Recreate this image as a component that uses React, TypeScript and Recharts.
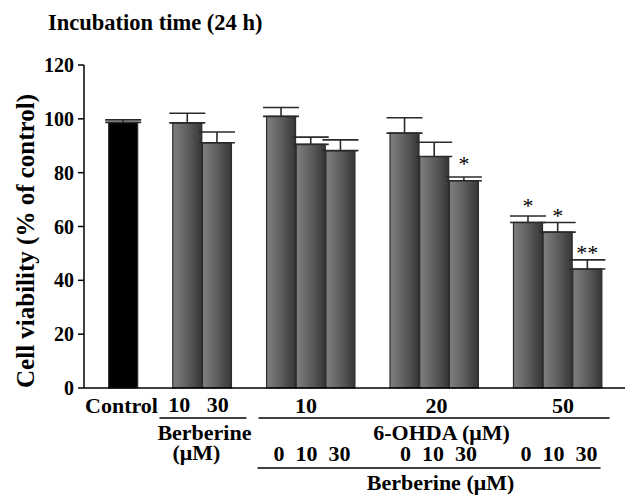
import React from "react";
import { Bar, BarChart, Cell, ErrorBar, LabelList, XAxis, YAxis } from "recharts";

// Cell viability after 24 h (% of control, mean + SEM)
const CATEGORIES = [
  "Control",
  "Berberine 10",
  "Berberine 30",
  "6-OHDA 10 / Berberine 0",
  "6-OHDA 10 / Berberine 10",
  "6-OHDA 10 / Berberine 30",
  "6-OHDA 20 / Berberine 0",
  "6-OHDA 20 / Berberine 10",
  "6-OHDA 20 / Berberine 30",
  "6-OHDA 50 / Berberine 0",
  "6-OHDA 50 / Berberine 10",
  "6-OHDA 50 / Berberine 30",
];
const VIABILITY = [98.7, 98.5, 91.1, 100.9, 90.5, 88.2, 94.7, 86.0, 77.0, 61.5, 57.9, 44.2];
const SEM = [0.9, 3.6, 4.0, 3.3, 2.7, 4.0, 5.7, 5.3, 1.4, 2.4, 3.6, 3.4];
const SIG = ["", "", "", "", "", "", "", "", "*", "*", "*", "**"];
const GROUP = [0, 1, 1, 2, 2, 2, 3, 3, 3, 4, 4, 4];
const Y_TICKS = [0, 20, 40, 60, 80, 100, 120];
const GROUP_LABELS = ["Control", "10   30", "10", "20", "50"];
const BERB_DOSES = "0  10  30";

const SERIF = '"Liberation Serif", "Times New Roman", serif';
const INK = "#000";
const GAP = 1.16; // extra space between groups, in bar widths

const rows = CATEGORIES.map((name, i) => ({
  name,
  pos: i + GROUP[i] * GAP,
  value: VIABILITY[i],
  err: [0, SEM[i]],
  sig: SIG[i],
}));

const groupCenters = GROUP_LABELS.map((_, g) => {
  const ps = rows.filter((_, i) => GROUP[i] === g).map((r) => r.pos);
  return ps.reduce((a, b) => a + b, 0) / ps.length;
});

const txt = {
  fontFamily: SERIF,
  fontWeight: 700,
  fontSize: 22,
  fill: INK,
  textAnchor: "middle" as const,
  style: { whiteSpace: "pre" as const },
};

function GroupTick(props: any) {
  const { x, payload } = props;
  const g = groupCenters.indexOf(payload.value);
  const parts: React.ReactNode[] = [];
  if (g === 0) parts.push(<text key="a" x={x - 2} y={413} {...txt}>{GROUP_LABELS[0]}</text>);
  if (g === 1) {
    parts.push(<text key="a" x={x - 4} y={412} {...txt}>{GROUP_LABELS[1]}</text>);
    parts.push(<line key="l" x1={x - 43} x2={x + 44} y1={418} y2={418} stroke={INK} strokeWidth={1.5} />);
    parts.push(<text key="b" x={x + 2} y={440} {...txt}>Berberine</text>);
    parts.push(<text key="c" x={x - 6} y={460} {...txt}>(μM)</text>);
  }
  if (g >= 2) {
    parts.push(<text key="a" x={x + (g === 2 ? -5 : g === 3 ? 2 : 5)} y={413} {...txt}>{GROUP_LABELS[g]}</text>);
    parts.push(<text key="d" x={x + (g === 3 ? 4 : 1)} y={461} {...txt}>{BERB_DOSES}</text>);
  }
  if (g === 3) {
    parts.push(<line key="l1" x1={x - 176} x2={x + 175} y1={418} y2={418} stroke={INK} strokeWidth={1.5} />);
    parts.push(<text key="b" x={x + 7} y={440} {...txt}>6-OHDA (μM)</text>);
    parts.push(<line key="l2" x1={x - 177} x2={x + 166} y1={468} y2={468} stroke={INK} strokeWidth={1.5} />);
    parts.push(<text key="e" x={x + 6} y={490} {...txt}>Berberine (μM)</text>);
  }
  return <g>{parts}</g>;
}

function Titles() {
  return (
    <g>
      <text x={48} y={30} fontFamily={SERIF} fontWeight={700} fontSize={22.5} fill={INK}>
        Incubation time (24 h)
      </text>
      <text
        x={25}
        y={241}
        transform="rotate(-90, 25, 241)"
        fontFamily={SERIF}
        fontWeight={700}
        fontSize={25}
        fill={INK}
        textAnchor="middle"
        dominantBaseline="central"
      >
        Cell viability (% of control)
      </text>
    </g>
  );
}

function Stars(p: any) {
  const { x, y, width, index } = p;
  const s = SIG[index];
  if (!s) return null;
  return (
    <text x={x + width / 2} y={y - 9.5} fontFamily={SERIF} fontSize={22} fill={INK} textAnchor="middle">
      {s}
    </text>
  );
}

export default function App() {
  return (
    <div style={{ position: "absolute", left: 0, top: 0, background: "#fff" }}>
      <BarChart width={625} height={495} data={rows} margin={{ top: 65, right: 0, bottom: 0, left: 0 }}>
        <defs>
          <linearGradient id="barGrad" x1="0" y1="0" x2="1" y2="0">
            <stop offset="0%" stopColor="#808080" />
            <stop offset="50%" stopColor="#5e5e5e" />
            <stop offset="100%" stopColor="#363636" />
          </linearGradient>
        </defs>
        <XAxis
          type="number"
          dataKey="pos"
          domain={[-1.331, 16.897]}
          allowDataOverflow
          ticks={groupCenters}
          interval={0}
          tickLine={false}
          tick={<GroupTick />}
          axisLine={{ stroke: INK, strokeWidth: 1.5 }}
          height={107}
        />
        <YAxis
          domain={[0, 120]}
          ticks={Y_TICKS}
          width={84}
          tickSize={6}
          tickMargin={4}
          axisLine={{ stroke: INK, strokeWidth: 1.5 }}
          tickLine={{ stroke: INK, strokeWidth: 1.5 }}
          tick={{ fontFamily: SERIF, fontWeight: 700, fontSize: 20, fill: INK }}
          label={{ content: () => <Titles /> }}
        />
        <Bar dataKey="value" barSize={29} fill="url(#barGrad)" stroke="#2a2a2a" strokeWidth={1.2} isAnimationActive={false}>
          {rows.map((r, i) => (
            <Cell key={r.name} fill={i === 0 ? "#000" : "url(#barGrad)"} />
          ))}
          <ErrorBar dataKey="err" direction="y" width={18} stroke="#2a2a2a" strokeWidth={1.6} />
          <LabelList dataKey="sig" content={<Stars />} />
        </Bar>
      </BarChart>
    </div>
  );
}
